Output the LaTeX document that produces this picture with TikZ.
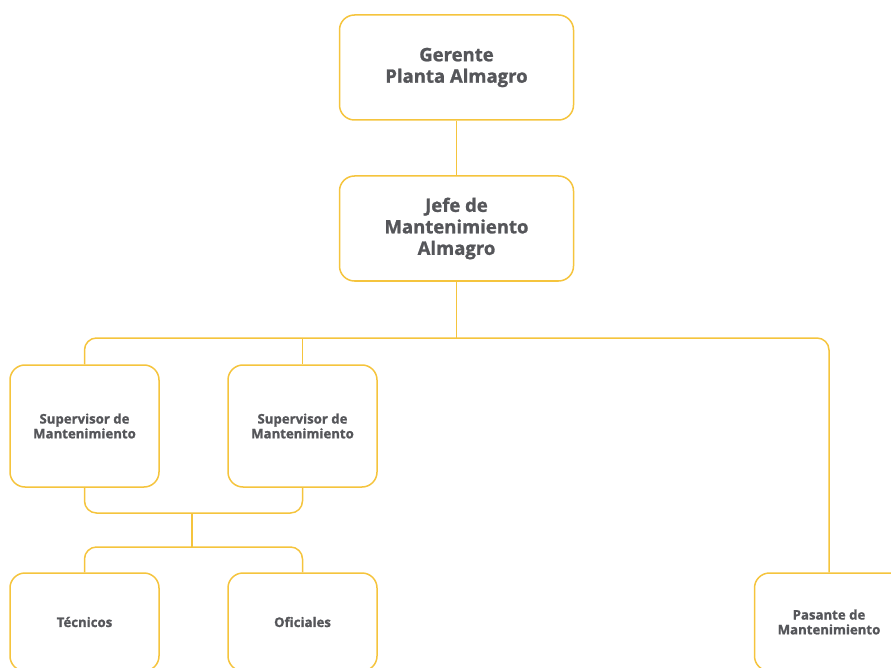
\documentclass[tikz,border=0pt]{standalone}
\usepackage{fontspec}
\setmainfont{Open Sans}[BoldFeatures={FakeBold=1.2}]
\definecolor{gold}{HTML}{F5C43D}
\definecolor{txt}{HTML}{55565A}
\begin{document}
\begin{tikzpicture}[x=1pt,y=-1pt,
  box/.style={draw=gold,line width=1.5pt,rounded corners=15pt,fill=white,
    text=txt,align=center,inner sep=0pt},
  bigbox/.style={box,minimum width=234pt,minimum height=105pt,
    font=\fontsize{18.5}{21.5}\selectfont\bfseries},
  smallbox/.style={box,minimum width=149pt,minimum height=122pt,
    font=\fontsize{13.2}{14.8}\selectfont\bfseries},
  lowbox/.style={box,minimum width=149pt,minimum height=98pt,
    font=\fontsize{13.2}{14.8}\selectfont\bfseries},
  link/.style={draw=gold,line width=1.5pt,rounded corners=12pt}]
\useasboundingbox (0,0) rectangle (891,668);
\clip (0,0) rectangle (891,668);
\node[bigbox] (ger) at (456.5,67.5) {Gerente\\Planta Almagro};
\node[bigbox] (jefe) at (456.5,228.5) {Jefe de\\Mantenimiento\\Almagro};
\node[smallbox] (sup1) at (84.5,426) {Supervisor de\\Mantenimiento};
\node[smallbox] (sup2) at (302.5,426) {Supervisor de\\Mantenimiento};
\node[lowbox] (tec) at (84.5,622) {Técnicos};
\node[lowbox] (ofi) at (302.5,622) {Oficiales};
\node[lowbox] (pas) at (829,622) {Pasante de\\Mantenimiento};
\coordinate (bus) at (456.5,338);
\coordinate (mid) at (192,513);
\coordinate (bus2) at (192,547);
\draw[link] (ger.south) -- (jefe.north);
\draw[link] (jefe.south) -- (bus);
\draw[link] (sup1.north) |- (bus) -| (pas.north);
\draw[link] (sup2.north) -- (sup2.north |- bus);
\draw[link] (sup1.south) |- (mid) -| (sup2.south);
\draw[link] (mid) -- (bus2);
\draw[link] (tec.north) |- (bus2) -| (ofi.north);
\end{tikzpicture}
\end{document}
